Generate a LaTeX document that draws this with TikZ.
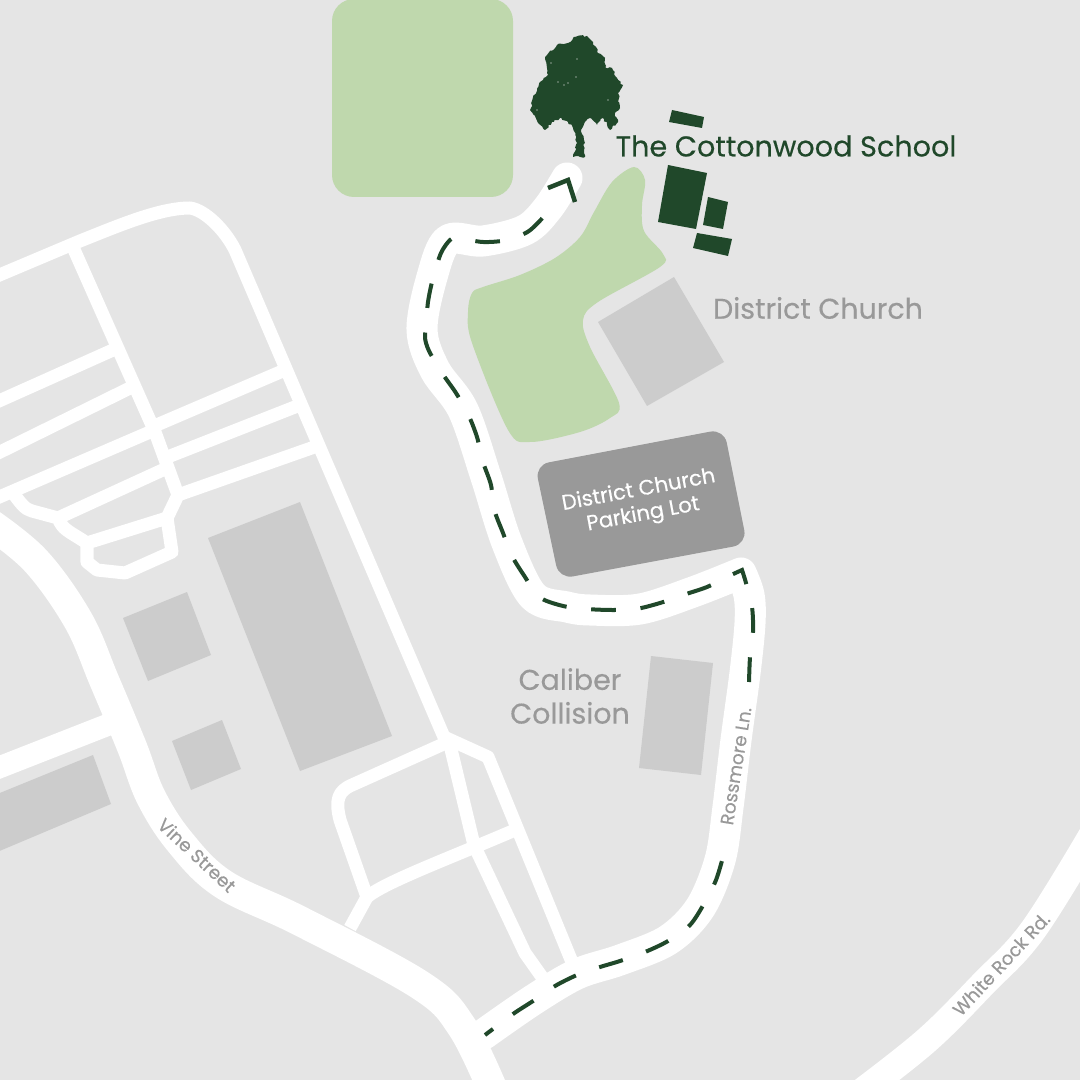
\documentclass[tikz,border=0pt]{standalone}
\usepackage{fontspec}
\setmainfont[FakeBold=0.35]{Poppins}
\usepackage{tikz}
\usetikzlibrary{decorations.pathmorphing}
\definecolor{ground}{HTML}{E5E5E5}
\definecolor{lawn}{HTML}{BFD8AD}
\definecolor{forest}{HTML}{20482A}
\definecolor{block}{HTML}{CCCCCC}
\definecolor{slate}{HTML}{999999}
\tikzstyle{road} = [white, line width=0.13cm, line join=round]
\tikzstyle{artery} = [white, line width=0.3cm, line join=round]
\tikzstyle{lane} = [white, line width=0.31cm, line join=round, line cap=round]
\tikzstyle{route} = [forest, line width=0.04cm, dash pattern=on 0.247cm off 0.247cm]
\tikzstyle{place} = [slate, font=\fontsize{8.1}{9.6}\selectfont, align=center]
\tikzstyle{streetname} = [slate, font=\fontsize{5.2}{6}\selectfont]
\begin{document}
\begin{tikzpicture}[x=0.01cm, y=-0.01cm]
	\useasboundingbox (0, 0) rectangle (1080, 1080);
	\clip (0, 0) rectangle (1080, 1080);
	\fill [ground] (0, 0) rectangle (1080, 1080);
	\fill [lawn, rounded corners=0.22cm] (332, -1) rectangle (513, 197);
	\fill [lawn] plot [smooth cycle, tension=0.55] coordinates {(634, 167) (612, 182) (594, 212) (580, 237) (555, 258) (520, 275) (483, 287) (472, 293) (468, 312) (472, 343) (508, 430) (530, 442) (580, 432) (610, 418) (619, 403) (590, 347) (583, 320) (598, 302) (660, 267) (663, 254) (644, 231) (642, 205) (645, 180)};
	\fill [block] (208, 538) -- (300, 502) -- (392, 736) -- (300, 771) -- cycle;
	\fill [block] (123, 618) -- (187, 592) -- (211, 655) -- (148, 681) -- cycle;
	\fill [block] (172, 741) -- (222, 720) -- (241, 769) -- (191, 790) -- cycle;
	\fill [block] (-10, 797) -- (93, 755) -- (111, 804) -- (-10, 855) -- cycle;
	\fill [block] (651, 656) -- (713, 663) -- (701, 775) -- (639, 768) -- cycle;
	\fill [block] (598, 322) -- (674, 277) -- (724, 362) -- (647, 406) -- cycle;
	\fill [slate, rounded corners=0.14cm] (535, 465) -- (724, 429) -- (747, 544) -- (559, 579) -- cycle;
	\draw [road] (-10, 279) -- (80, 241) .. controls (120, 225) and (160, 208) .. (190, 208) .. controls (205, 210) and (225, 230) .. (235, 250) -- (444, 737) -- (488, 757) -- (572, 962);
	\draw [road] (72, 245) -- (155, 432) -- (178, 495) -- (167, 518) -- (172, 552) -- (125, 573) -- (97, 570) -- (87, 562) -- (87, 543) -- (167, 518);
	\draw [road] (-10, 405) -- (113, 350);
	\draw [road] (-10, 457) -- (130, 388);
	\draw [road] (-10, 501) -- (150, 432);
	\draw [road] (152, 427) -- (285, 370);
	\draw [road] (160, 460) -- (300, 405);
	\draw [road] (178, 495) -- (320, 445);
	\draw [road] (58, 518) -- (167, 468);
	\draw [road] (13, 493) .. controls (22, 505) and (25, 509) .. (32, 511) -- (58, 518) .. controls (63, 530) and (67, 530) .. (87, 543);
	\draw [road] (448, 742) -- (352, 785) .. controls (338, 791) and (335, 800) .. (340, 820) -- (367, 897) -- (350, 928);
	\draw [road] (367, 897) .. controls (385, 882) and (450, 858) .. (515, 830);
	\draw [road] (450, 745) -- (474, 845) -- (525, 953) -- (542, 977);
	\draw [artery] plot [smooth, tension=0.6] coordinates {(-15, 520) (35, 560) (78, 620) (104, 680) (132, 747) (151, 797) (180, 842) (223, 884) (300, 921) (420, 985) (462, 1027) (495, 1095)};
	\draw [white, line width=0.22cm] (-10, 771) -- (115, 722);
	\draw [white, line width=0.27cm] plot [smooth, tension=0.6] coordinates {(1095, 830) (1033, 930) (983, 984) (927, 1040) (860, 1093)};
	\draw [lane] plot [smooth, tension=0.55] coordinates {(484, 1034) (533, 1000) (577, 974) (620, 960) (668, 940) (700, 908) (720, 860) (728, 807) (736, 740) (745, 673) (750, 623) (749, 595) (741, 573)} -- plot [smooth, tension=0.55] coordinates {(741, 573) (693, 592) (640, 609) (590, 610) (567, 607) (533, 596) (507, 543) (486, 477) (463, 410) (435, 370) (422, 330) (432, 277) (448, 240) (483, 241) (525, 230) (548, 208) (567, 178)};
	\draw [route, dash phase=0.147cm] plot [smooth, tension=0.5] coordinates {(485, 1035) (513, 1014) (533, 1001) (555, 986) (577, 975) (600, 967) (620, 961) (645, 952) (668, 941) (690, 925) (705, 902) (716, 880) (723, 857)};
	\draw [route] plot [smooth, tension=0.5] coordinates {(749, 682) (750, 657) (753, 632) (752, 607) (746, 583) (742, 570)} -- plot [smooth, tension=0.5] coordinates {(742, 570) (729, 576) (707, 587) (683, 595) (660, 603) (636, 609) (612, 610) (587, 609) (563, 606) (539, 597) (525, 577) (512, 556) (503, 533) (494, 509) (491, 485) (483, 462) (477, 437) (468, 414) (456, 393) (442, 373) (429, 351) (425, 338) (426, 327) (428, 302) (433, 278) (441, 253) (450, 240) (457, 238) (483, 242) (507, 240) (529, 231) (547, 213)};
	\draw [forest, line width=0.045cm] (548, 188) -- (568, 180) -- (575, 202);
	\fill [forest, decorate, decoration={random steps, segment length=0.025cm, amplitude=0.012cm}] (575, 37) -- (587, 36) -- (593, 42) -- (598, 53) -- (605, 58) -- (605, 67) -- (612, 68) -- (617, 78) -- (623, 85) -- (618, 93) -- (620, 108) -- (615, 113) -- (618, 122) -- (610, 130) -- (603, 118) -- (597, 125) -- (590, 118) -- (584, 124) -- (581, 130) -- (584, 140) -- (584, 153) -- (585, 157) -- (573, 157) -- (577, 143) -- (573, 128) -- (568, 122) -- (560, 118) -- (552, 122) -- (545, 130) -- (538, 123) -- (530, 110) -- (533, 97) -- (540, 82) -- (548, 75) -- (545, 57) -- (557, 45) -- (568, 43) -- cycle;
	\foreach \x/\y in {558/82, 564/85, 568/83, 576/77, 551/63, 577/59, 608/100, 537/110} {
		\fill [ground!55!forest] (\x, \y) circle [radius=0.008cm];
	}
	\fill [forest] (672, 110) -- (704, 117) -- (702, 128) -- (669, 122) -- cycle;
	\fill [forest] (668, 165) -- (707, 173) -- (696, 229) -- (658, 222) -- cycle;
	\fill [forest] (708, 197) -- (728, 202) -- (723, 229) -- (703, 225) -- cycle;
	\fill [forest] (697, 233) -- (732, 239) -- (728, 256) -- (693, 248) -- cycle;
	\node [forest, font=\fontsize{8.15}{9.6}\selectfont] (school) at (786, 146) {The Cottonwood School};
	\node [place] (church) at (818, 308) {District Church};
	\node [place] (caliber) at (570, 696) {Caliber\\Collision};
	\node [white, font=\fontsize{6}{7}\selectfont, align=center, rotate=10.5] (lot) at (641, 503) {District Church\\Parking Lot};
	\node [streetname, rotate=81] (rossmore) at (736, 766) {Rossmore Ln.};
	\node [streetname, rotate=-43] (vine) at (197, 855) {Vine Street};
	\node [streetname, rotate=47] (whiterock) at (1001, 964) {White Rock Rd.};
\end{tikzpicture}
\end{document}
